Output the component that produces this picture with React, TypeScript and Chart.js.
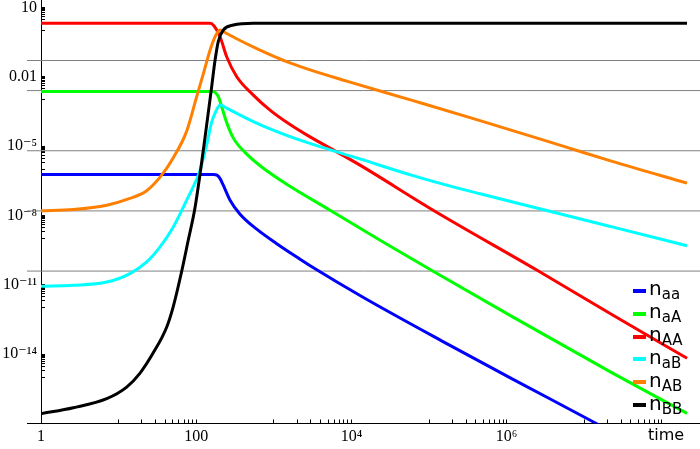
import React, { useEffect, useRef } from 'react';
import { Chart, registerables } from 'chart.js';

Chart.register(...registerables);

// ---- data ----
const timeAa = [1, 100, 166, 185, 203, 223, 273, 367, 602, 1090, 2180, 3200, 14100, 169000, 1210000, 14500000, 211000000];
const valAa = [5.9e-7, 5.9e-7, 5.9e-7, 5.5e-7, 3.88e-7, 2.03e-7, 4.55e-8, 1.13e-8, 2.53e-9, 5.96e-10, 1.27e-10, 5.56e-11, 2.88e-12, 2.85e-14, 8.1e-16, 9.8e-18, 7e-20];

const timeaA = [1, 100, 164, 193, 213, 247, 301, 448, 733, 1466, 5300, 23400, 113000, 1210000, 23500000, 211000000];
const valaA = [2.3e-3, 2.3e-3, 2.3e-3, 1.35e-3, 4.98e-4, 1.03e-4, 2.2e-5, 4.46e-6, 1.1e-6, 2.24e-7, 1.68e-8, 8.4e-10, 3.84e-11, 4.0e-13, 1.48e-15, 2.73e-17];

const timeAA = [1, 100, 151, 170, 203, 247, 333, 544, 893, 1618, 2930, 6470, 12900, 113000, 2470000, 23500000, 211000000];
const valAA = [2.03, 2.03, 2.03, 1.55, 0.533, 0.0726, 9.9e-3, 1.6e-3, 3.58e-4, 8.5e-5, 2.48e-5, 5.6e-6, 1.49e-6, 1.68e-8, 4.25e-11, 4.8e-13, 6.6e-15];

const timeaB = [1, 2.61, 7.03, 14.0, 23.0, 34.2, 50.7, 75.4, 112, 136, 158, 175, 203, 247, 333, 544, 893, 1618, 3570, 12900, 62200, 169000, 454000, 3290000, 23500000, 211000000];
const valaB = [8.6e-12, 9.5e-12, 1.32e-11, 3.05e-11, 9.7e-11, 4.33e-10, 3.18e-9, 4.55e-8, 9.06e-7, 1.09e-5, 1.08e-4, 2.65e-4, 5.9e-4, 4.37e-4, 2.58e-4, 1.14e-4, 5.5e-5, 2.55e-5, 1.04e-5, 2.77e-6, 5.24e-7, 2.03e-7, 8.6e-8, 1.63e-8, 3.11e-9, 4.88e-10];

const timeAB = [1, 2.61, 7.03, 14.0, 23.0, 34.2, 50.7, 75.4, 101, 124, 151, 175, 203, 247, 367, 602, 986, 1618, 2930, 8690, 62200, 454000, 5330000, 23500000, 211000000];
const valAB = [1.57e-8, 1.8e-8, 2.77e-8, 5.4e-8, 1.17e-7, 4.5e-7, 3.15e-6, 4.42e-5, 1.31e-3, 0.0139, 0.142, 0.533, 1.04, 0.734, 0.366, 0.164, 0.078, 0.0395, 0.0197, 6.45e-3, 9.2e-4, 1.26e-4, 9.9e-6, 2.11e-6, 2.48e-7];

const timeBB = [1, 2.61, 7.03, 12.7, 18.9, 27.7, 41.7, 50.7, 65.0, 78.4, 95.7, 112, 130, 158, 175, 193, 223, 301, 544, 211000000];
const valBB = [2.65e-17, 4.83e-17, 1.19e-16, 3.77e-16, 1.52e-15, 1.08e-14, 1.49e-13, 1.17e-12, 3.84e-11, 7.6e-10, 1.85e-8, 6.1e-7, 2.43e-5, 3.55e-3, 0.0524, 0.348, 1.04, 1.71, 2.03, 2.03];

const seriesSubs = ['aa', 'aA', 'AA', 'aB', 'AB', 'BB'];
const seriesColors = ['#0000ff', '#00ff00', '#ff0000', '#00ffff', '#ff8000', '#000000'];

const gridLineValues = [0.05, 0.0025, 6.25e-6, 1.5625e-8, 3.90625e-11];

const xMajorTicks = [1, 100, 1e4, 1e6, 1e8];
const xMajorLabels = ['1', '100', '10\u2074', '10\u2076', ''];
const yMajorTicks = [10, 0.01, 1e-5, 1e-8, 1e-11, 1e-14];
const yMajorLabels = ['10', '0.01', '10\u207B\u2075', '10\u207B\u2078', '10\u207B\u00B9\u00B9', '10\u207B\u00B9\u2074'];
const minorMultipliers = [1, 2, 3, 4, 5, 6, 7, 8, 9];

const xMin = 1;
const xMax = 3.1e8;
const yMin = 1e-17;
const yMax = 20.7;
const axisLineStartX = 0.66;

const tickFont = "'Liberation Serif', 'DejaVu Serif', serif";
const sansFont = "'DejaVu Sans', 'Liberation Sans', sans-serif";

function tickValues(majors: number[], lo: number, hi: number) {
  const out: number[] = [];
  majors.forEach((m) => {
    out.push(m);
    minorMultipliers.forEach((k) => out.push((k * m) / 10));
  });
  return out.filter((v) => v >= lo && v <= hi).sort((a, b) => a - b);
}

export default function App() {
  const ref = useRef<HTMLCanvasElement | null>(null);

  useEffect(() => {
    if (!ref.current) return;
    const allTimes = [timeAa, timeaA, timeAA, timeaB, timeAB, timeBB];
    const allVals = [valAa, valaA, valAA, valaB, valAB, valBB];
    const curveSets = allTimes.map((ts, i) => ({
      label: 'n' + seriesSubs[i],
      data: ts.map((t, j) => ({ x: t, y: allVals[i][j] })),
      borderColor: seriesColors[i],
      backgroundColor: seriesColors[i],
      borderWidth: 3,
      pointRadius: 0,
      fill: false,
      cubicInterpolationMode: 'monotone' as const,
      order: 5 - i,
    }));
    const gridSets = gridLineValues.map((v) => ({
      label: 'grid',
      data: [{ x: axisLineStartX, y: v }, { x: xMax, y: v }],
      borderColor: '#808080',
      borderWidth: 1,
      pointRadius: 0,
      fill: false,
      clip: false as const,
      order: 20,
    }));
    const axisExt = {
      label: 'axis',
      data: [{ x: axisLineStartX, y: yMin }, { x: xMin, y: yMin }],
      borderColor: '#000000',
      borderWidth: 1,
      pointRadius: 0,
      fill: false,
      clip: false as const,
      order: 19,
    };

    const xTicks = tickValues(xMajorTicks, xMin, xMax);
    const yTicks = tickValues(yMajorTicks, yMin, yMax);
    const xLabelMap = new Map<number, string>();
    xMajorTicks.forEach((v, i) => xLabelMap.set(v, xMajorLabels[i]));
    const yLabelMap = new Map<number, string>();
    yMajorTicks.forEach((v, i) => yLabelMap.set(v, yMajorLabels[i]));

    const chart = new Chart(ref.current, {
      type: 'line',
      data: { datasets: [...curveSets, ...gridSets, axisExt] as any },
      options: {
        responsive: false,
        animation: false,
        layout: { padding: 0 },
        plugins: { legend: { display: false }, tooltip: { enabled: false } },
        scales: {
          x: {
            type: 'logarithmic',
            min: xMin,
            max: xMax,
            position: 'bottom',
            border: { display: true, color: '#000000', width: 1 },
            grid: { drawOnChartArea: false, drawTicks: true, tickLength: -4, tickColor: '#000000', tickWidth: 1 },
            ticks: {
              autoSkip: false,
              maxRotation: 0,
              minRotation: 0,
              padding: 8,
              color: '#000000',
              font: { family: tickFont, size: 16 },
              callback: (v: any) => xLabelMap.get(Number(v)) ?? '',
            },
            afterBuildTicks: (s: any) => {
              s.ticks = xTicks.map((v) => ({ value: v }));
            },
            afterFit: (s: any) => {
              s.height = 25.5;
              s.paddingLeft = 0;
              s.paddingRight = 0;
            },
          },
          y: {
            type: 'logarithmic',
            min: yMin,
            max: yMax,
            position: 'left',
            border: { display: true, color: '#000000', width: 1 },
            grid: { drawOnChartArea: false, drawTicks: true, tickLength: -4, tickColor: '#000000', tickWidth: 1 },
            ticks: {
              autoSkip: false,
              padding: 8,
              color: '#000000',
              font: { family: tickFont, size: 16 },
              callback: (v: any) => yLabelMap.get(Number(v)) ?? '',
            },
            afterBuildTicks: (s: any) => {
              s.ticks = yTicks.map((v) => ({ value: v }));
            },
            afterFit: (s: any) => {
              s.width = 41;
              s.paddingTop = 0;
              s.paddingBottom = 0;
            },
          },
        },
      } as any,
    });
    return () => chart.destroy();
  }, []);

  const legendTop = 290.7;
  const legendStep = 22.9;

  return (
    <div style={{ position: 'fixed', left: 0, top: 0, width: 700, height: 449, background: '#ffffff', overflow: 'hidden' }}>
      <canvas ref={ref} width={700} height={449} style={{ position: 'absolute', left: 0, top: 0, width: 700, height: 449 }} />
      {seriesSubs.map((s, i) => (
        <div
          key={s}
          style={{
            position: 'absolute',
            left: 633,
            top: legendTop + i * legendStep - 10,
            height: 20,
            display: 'flex',
            alignItems: 'center',
            fontFamily: sansFont,
            color: '#000000',
            whiteSpace: 'nowrap',
          }}
        >
          <span style={{ display: 'inline-block', width: 13, height: 4, background: seriesColors[i], marginRight: 3 }} />
          <span style={{ fontSize: 20, lineHeight: '20px', position: 'relative', top: -1.5 }}>
            n
            <span style={{ fontSize: 15, position: 'relative', top: 4 }}>{s}</span>
          </span>
        </div>
      ))}
      <div
        style={{
          position: 'absolute',
          left: 648,
          top: 426.5,
          fontFamily: sansFont,
          fontSize: 16,
          lineHeight: '16px',
          color: '#000000',
        }}
      >
        time
      </div>
    </div>
  );
}
